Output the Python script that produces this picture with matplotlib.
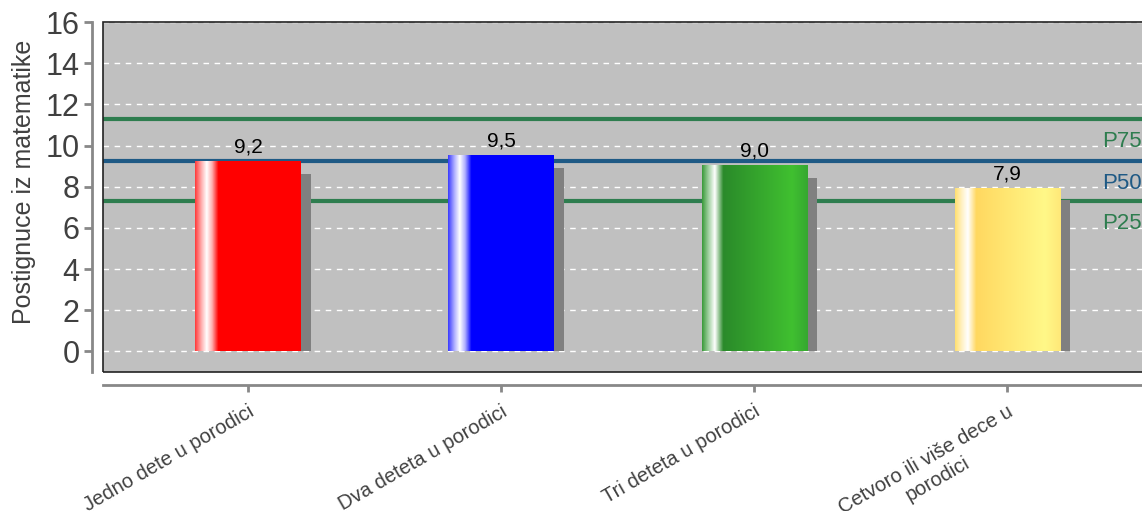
import numpy as np
import matplotlib.pyplot as plt
from matplotlib.colors import LinearSegmentedColormap
from matplotlib.patches import Rectangle

# data
categories = ["Jedno dete u porodici", "Dva deteta u porodici",
              "Tri deteta u porodici", "Cetvoro ili više dece u\nporodici"]
values = [9.2, 9.5, 9.0, 7.9]
value_labels = ["9,2", "9,5", "9,0", "7,9"]
p_names = ["P75", "P50", "P25"]
p_values = [11.3, 9.25, 7.3]
p_colors = ["#2e7d4f", "#1f5a85", "#2e7d4f"]

# gradient stops for each bar (left -> right)
bar_stops = [
    [(0, "#ff3a3a"), (0.06, "#ffb0b0"), (0.11, "#ffffff"), (0.16, "#ffb0b0"), (0.22, "#ff0000"), (1, "#ff0000")],
    [(0, "#3a3aff"), (0.06, "#b0b0ff"), (0.11, "#ffffff"), (0.16, "#b0b0ff"), (0.22, "#0000ff"), (1, "#0000ff")],
    [(0, "#3a9a3a"), (0.06, "#a0d0a0"), (0.12, "#ffffff"), (0.2, "#2a8a2a"), (0.85, "#40c030"), (1, "#36a830")],
    [(0, "#ffe070"), (0.06, "#fff0c0"), (0.12, "#ffffff"), (0.2, "#ffd860"), (0.85, "#fff888"), (1, "#ffe878")],
]

plt.rcParams['font.family'] = ['Liberation Sans', 'DejaVu Sans']

fig = plt.figure(figsize=(11.42, 5.11), dpi=100)
ax = fig.add_axes([103/1142, 1-372/511, (1152-103)/1142, (372-22)/511])
ax.set_facecolor("#c0c0c0")

w = 0.415
shadow_dx = 0.04
grad = np.linspace(0, 1, 256).reshape(1, -1)

for i, v in enumerate(values):
    ax.bar(i + shadow_dx, v - 0.57, width=w, color="#808080", zorder=2)
    cmap = LinearSegmentedColormap.from_list("b%d" % i, bar_stops[i])
    ax.imshow(grad, cmap=cmap, aspect="auto", zorder=3,
              extent=[i - w/2, i + w/2, 0, v])
    ax.text(i, v + 0.25, value_labels[i], ha="center", va="bottom", fontsize=15, color="black")

for name, pv, c in zip(p_names, p_values, p_colors):
    ax.axhline(pv, color=c, lw=3, zorder=1.5)
    ax.text(3.375, pv - 1.1, name, color=c, fontsize=16, va="center", ha="left")

ax.set_xlim(-0.573, 3.573)
ax.set_ylim(-1, 16)
ax.set_yticks(np.arange(0, 17, 2))
ax.set_xticks(range(len(categories)))
ax.set_xticklabels(categories)
ax.yaxis.grid(True, color="white", linestyle=(0, (4, 4)), lw=1)
ax.set_axisbelow(True)

ax.add_patch(Rectangle((0, 0), 1, 1, transform=ax.transAxes, fill=False,
                       edgecolor="#222222", lw=1.2, zorder=5, clip_on=False))

for s in ["top", "right"]:
    ax.spines[s].set_visible(False)
ax.spines["left"].set_position(("outward", 8))
ax.spines["bottom"].set_position(("outward", 9))
for s in ["left", "bottom"]:
    ax.spines[s].set_color("#888888")
    ax.spines[s].set_linewidth(2)

ax.tick_params(axis="y", colors="#888888", width=2, length=6, labelsize=22,
               labelcolor="#404040", pad=3)
ax.tick_params(axis="x", colors="#888888", width=2, length=5, labelsize=14.5,
               labelcolor="#404040", pad=7.5, labelrotation=30)
for lab in ax.get_xticklabels():
    lab.set_horizontalalignment("right")
    lab.set_verticalalignment("top")
    lab.set_rotation_mode("anchor")
    lab.set_multialignment("center")

ax.set_ylabel("Postignuce iz matematike", fontsize=18, color="#404040")
ax.yaxis.set_label_coords(-0.064, 0.543)

plt.savefig("out.png", dpi=100)
